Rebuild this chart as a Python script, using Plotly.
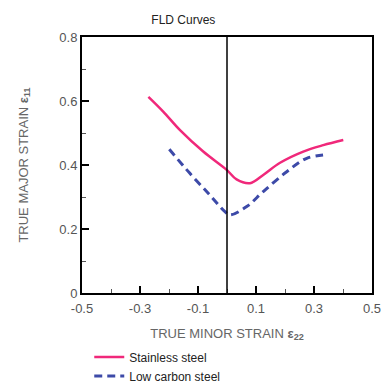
import plotly.graph_objects as go

stainless_x = [-0.271, -0.22, -0.162, -0.082, 0.0, 0.033, 0.079, 0.125, 0.183, 0.263, 0.332, 0.401]
stainless_y = [0.613, 0.567, 0.509, 0.442, 0.384, 0.355, 0.343, 0.369, 0.407, 0.442, 0.462, 0.478]
lowc_x = [-0.199, -0.128, -0.059, -0.007, 0.010, 0.068, 0.125, 0.206, 0.275, 0.349]
lowc_y = [0.449, 0.374, 0.306, 0.254, 0.244, 0.270, 0.317, 0.379, 0.421, 0.433]
x_ticks = [-0.5, -0.3, -0.1, 0.1, 0.3, 0.5]
y_ticks = [0, 0.2, 0.4, 0.6, 0.8]

fig = go.Figure()
fig.add_trace(go.Scatter(x=stainless_x, y=stainless_y, mode="lines", name="Stainless steel",
                         line=dict(color="#f0287a", width=2.5, shape="spline")))
fig.add_trace(go.Scatter(x=lowc_x, y=lowc_y, mode="lines", name="Low carbon steel",
                         line=dict(color="#3d4aa8", width=3, dash="8px,5px", shape="spline")))
fig.add_shape(type="line", x0=0, x1=0, y0=0, y1=0.8, xref="x", yref="y",
              line=dict(color="black", width=1.5))

fig.update_layout(
    width=382, height=382,
    margin=dict(l=82, r=10, t=37, b=89, autoexpand=False),
    paper_bgcolor="white", plot_bgcolor="white",
    font=dict(family="Liberation Sans, Arial", color="#555"),
    title=dict(text="FLD Curves", x=0.48, xanchor="center", y=0.947, yanchor="middle",
               font=dict(size=12, color="#222")),
    showlegend=True,
    legend=dict(x=0.025, y=-0.193, xanchor="left", yanchor="top", orientation="v",
                font=dict(size=12, color="#222"), bgcolor="rgba(0,0,0,0)",
                tracegroupgap=0, itemwidth=30),
)
fig.update_xaxes(range=[-0.5, 0.5], tickvals=x_ticks, ticktext=[f"{v:g}" for v in x_ticks],
                 ticks="inside", ticklen=7, tickwidth=2, tickcolor="black", automargin=False,
                 minor=dict(dtick=0.1, tick0=0, ticks="inside", ticklen=4, tickcolor="#555", tickwidth=1),
                 showline=True, linecolor="black", linewidth=2, mirror=True, showgrid=False,
                 zeroline=False, tickfont=dict(size=13, color="#555"), ticklabelstandoff=2,
                 title=dict(text="TRUE MINOR STRAIN <b>ε<sub>22</sub></b>", font=dict(size=13, color="#666"),
                            standoff=14))
fig.update_yaxes(range=[0, 0.8], tickvals=y_ticks, ticktext=[f"{v:g}" for v in y_ticks],
                 ticks="inside", ticklen=7, tickwidth=2, tickcolor="black", automargin=False,
                 minor=dict(dtick=0.1, tick0=0, ticks="inside", ticklen=4, tickcolor="#555", tickwidth=1),
                 showline=True, linecolor="black", linewidth=2, mirror=True, showgrid=False,
                 zeroline=False, tickfont=dict(size=13, color="#555"),
                 title=dict(text="TRUE MAJOR STRAIN <b>ε<sub>11</sub></b>", font=dict(size=13, color="#666"),
                            standoff=28))

fig.write_html("out.html", config={"displayModeBar": False},
               post_script="document.body.style.margin='0';")
